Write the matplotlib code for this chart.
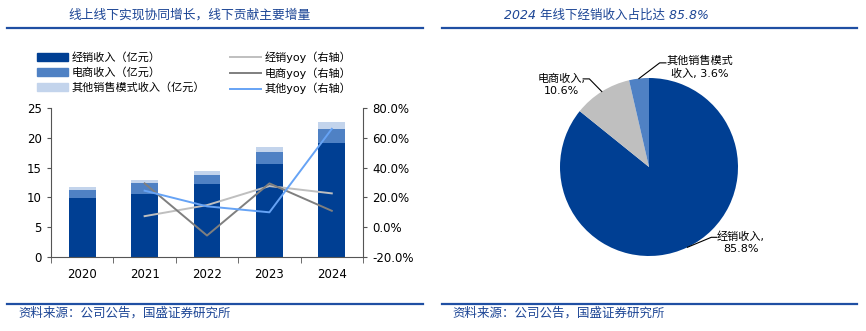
import numpy as np
import matplotlib
matplotlib.use("Agg")
import matplotlib.pyplot as plt
from matplotlib.lines import Line2D
from matplotlib.patches import Patch

plt.rcParams['font.family'] = ['DejaVu Sans', 'Noto Sans CJK SC']

# ---- data ----
years = ['2020', '2021', '2022', '2023', '2024']
dealer_rev = [9.9, 10.6, 12.2, 15.6, 19.2]      # 经销收入（亿元）
ecom_rev = [1.3, 1.8, 1.6, 2.1, 2.3]            # 电商收入（亿元）
other_rev = [0.6, 0.6, 0.7, 0.7, 1.1]           # 其他销售模式收入（亿元）
yoy_years = ['2021', '2022', '2023', '2024']
dealer_yoy = [7.4, 14.8, 27.6, 22.7]            # %
ecom_yoy = [29.4, -5.6, 29.4, 11.0]             # %
other_yoy = [24.5, 14.0, 10.0, 66.0]            # %

pie_labels = ['经销收入,\n85.8%', '电商收入,\n10.6%', '其他销售模式\n收入, 3.6%']
pie_shares = [85.8, 10.6, 3.6]

left_ticks = [0, 5, 10, 15, 20, 25]
right_ticks = [-20, 0, 20, 40, 60, 80]

C_DARK = '#003f93'
C_MID = '#4f81c4'
C_LIGHT = '#c3d4ec'
C_GREY_L = '#bfbfbf'
C_GREY_D = '#7f7f7f'
C_BLUE_L = '#66a3f5'
C_TITLE = '#1c4595'
C_RULE = '#1f4fa3'

W, H = 866, 331
fig = plt.figure(figsize=(W / 100, H / 100), dpi=100)


def fx(px):
    return px / W


def fy(py):
    return 1 - py / H


# ---- headers and footers ----
fig.text(fx(68), fy(15), '线上线下实现协同增长，线下贡献主要增量', fontsize=9.2,
         color=C_TITLE, style='italic', va='center', ha='left')
fig.text(fx(504), fy(15), '2024 年线下经销收入占比达 85.8%', fontsize=9,
         color=C_TITLE, style='italic', va='center', ha='left')
for x0, x1 in [(7, 423), (442, 857)]:
    fig.add_artist(Line2D([fx(x0), fx(x1)], [fy(28), fy(28)], color=C_RULE, lw=1.6))
    fig.add_artist(Line2D([fx(x0), fx(x1)], [fy(304), fy(304)], color=C_RULE, lw=1.6))
fig.text(fx(18), fy(313), '资料来源：公司公告，国盛证券研究所', fontsize=9,
         color=C_TITLE, style='italic', va='center', ha='left')
fig.text(fx(452), fy(313), '资料来源：公司公告，国盛证券研究所', fontsize=9,
         color=C_TITLE, style='italic', va='center', ha='left')

# ---- stacked bars with yoy lines ----
ax = fig.add_axes([fx(51), fy(257), fx(363) - fx(51), fy(108) - fy(257)])
x = np.arange(len(years))
bw = 0.43
d = np.array(dealer_rev)
e = np.array(ecom_rev)
o = np.array(other_rev)
ax.bar(x, d, bw, color=C_DARK, label='经销收入（亿元）')
ax.bar(x, e, bw, bottom=d, color=C_MID, label='电商收入（亿元）')
ax.bar(x, o, bw, bottom=d + e, color=C_LIGHT, label='其他销售模式收入（亿元）')
ax.set_xlim(-0.5, len(years) - 0.5)
ax.set_ylim(0, 25)
ax.set_yticks(left_ticks)
ax.set_xticks(x)
ax.set_xticklabels(years)
ax.set_xticks(np.arange(-0.5, len(years)), minor=True)
ax.tick_params(axis='x', which='major', length=0, labelsize=8.5, pad=8)
ax.tick_params(axis='x', which='minor', length=4, direction='out', color='#555555')
ax.tick_params(axis='y', length=3, direction='out', labelsize=8.5, color='#555555')
ax.spines['top'].set_visible(False)
ax.spines['right'].set_visible(False)
for s in ['left', 'bottom']:
    ax.spines[s].set_color('#555555')
    ax.spines[s].set_linewidth(0.8)

ax2 = ax.twinx()
xi = [years.index(yv) for yv in yoy_years]
ax2.plot(xi, dealer_yoy, color=C_GREY_L, lw=1.4, label='经销yoy（右轴）')
ax2.plot(xi, ecom_yoy, color=C_GREY_D, lw=1.4, label='电商yoy（右轴）')
ax2.plot(xi, other_yoy, color=C_BLUE_L, lw=1.4, label='其他yoy（右轴）')
ax2.set_ylim(-20, 80)
ax2.set_yticks(right_ticks)
ax2.set_yticklabels([f'{v:.1f}%' for v in right_ticks])
ax2.tick_params(axis='y', length=3, direction='out', labelsize=8.5, color='#555555')
for s in ['top', 'left', 'bottom']:
    ax2.spines[s].set_visible(False)
ax2.spines['right'].set_color('#555555')
ax2.spines['right'].set_linewidth(0.8)

# legend in two columns above the plot
handles = [
    Patch(color=C_DARK), Patch(color=C_MID), Patch(color=C_LIGHT),
    Line2D([], [], color=C_GREY_L, lw=1.4),
    Line2D([], [], color=C_GREY_D, lw=1.4),
    Line2D([], [], color=C_BLUE_L, lw=1.4),
]
labels = ['经销收入（亿元）', '电商收入（亿元）', '其他销售模式收入（亿元）',
          '经销yoy（右轴）', '电商yoy（右轴）', '其他yoy（右轴）']
fig.legend(handles, labels, ncol=2, loc='upper left',
           bbox_to_anchor=(fx(37), fy(51)), frameon=False, fontsize=8,
           handlelength=2.8, handleheight=0.7, handletextpad=0.35,
           columnspacing=2.2, labelspacing=0.4, borderaxespad=0, borderpad=0)

# ---- pie ----
cx, cy, r = 649, 167, 89
axp = fig.add_axes([fx(cx - r), fy(cy + r), fx(2 * r), fy(cy - r) - fy(cy + r)])
wedges, _ = axp.pie(pie_shares, colors=[C_DARK, C_GREY_L, C_MID], startangle=90,
                    counterclock=False, radius=1)
axp.set_xlim(-1, 1)
axp.set_ylim(-1, 1)
axp.axis('off')

# leader lines: (elbow, end, text position) in radius units
label_geom = [
    ((0.70, -0.79), (0.76, -0.79), (1.03, -0.85)),
    ((-0.67, 0.99), (-0.74, 0.99), (-0.98, 0.92)),
    ((0.12, 1.17), (0.19, 1.17), (0.57, 1.12)),
]
for w, lab, (elbow, end, tpos) in zip(wedges, pie_labels, label_geom):
    ang = np.deg2rad((w.theta1 + w.theta2) / 2)
    sx, sy = np.cos(ang), np.sin(ang)
    axp.plot([sx, elbow[0], end[0]], [sy, elbow[1], end[1]], color='black',
             lw=0.8, clip_on=False)
    axp.text(tpos[0], tpos[1], lab, ha='center', va='center', fontsize=8,
             linespacing=1.3, clip_on=False)

fig.savefig('out.png', dpi=100)
